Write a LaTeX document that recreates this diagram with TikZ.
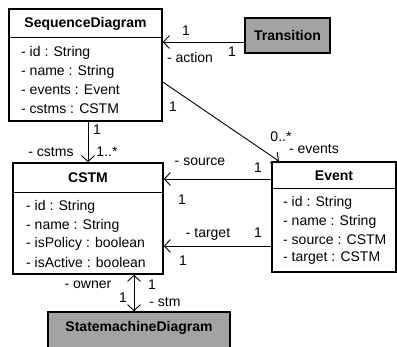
\documentclass[tikz,border=0pt]{standalone}
\usepackage{fontspec}
\setmainfont{Liberation Sans}
\usetikzlibrary{arrows.meta}
\definecolor{boxgray}{RGB}{163,163,163}
\begin{document}
\begin{tikzpicture}[x=1pt,y=-1pt,
  box/.style={draw, line width=1.6pt, inner sep=0pt, fill=white},
  gbox/.style={box, fill=boxgray},
  sep/.style={line width=1pt},
  conn/.style={line width=0.9pt},
  arr/.style={-{Straight Barb[length=6pt,width=13pt,line width=0.9pt]}},
  lbl/.style={inner sep=0pt, font=\fontsize{14}{16}\selectfont},
  ttl/.style={inner sep=0pt, font=\fontsize{14}{16}\selectfont\bfseries},
  attr/.style={inner sep=0pt, anchor=west, font=\fontsize{14}{16}\selectfont}
]
\useasboundingbox (0,0) rectangle (397,347);

% SequenceDiagram
\node[box, minimum width=153pt, minimum height=112pt] (sd) at (85.5,65) {};
\draw[sep] (sd.west |- 0,38) -- (sd.east |- 0,38);
\node[ttl] (sdt) at (85.5,24) {SequenceDiagram};
\node[attr] (sd1) at (21,53) {- id : String};
\node[attr] (sd2) at (21,71.5) {- name : String};
\node[attr] (sd3) at (21,90) {- events : Event};
\node[attr] (sd4) at (21,108.5) {- cstms : CSTM};

% Transition
\node[gbox, minimum width=85pt, minimum height=35pt] (tr) at (287.5,35.5) {};
\node[ttl] (trt) at (287.5,35.5) {Transition};

% CSTM
\node[box, minimum width=150pt, minimum height=111pt] (cs) at (88,218.5) {};
\draw[sep] (cs.west |- 0,193) -- (cs.east |- 0,193);
\node[ttl] (cst) at (88,178) {CSTM};
\node[attr] (cs1) at (26,207) {- id : String};
\node[attr] (cs2) at (26,225.5) {- name : String};
\node[attr] (cs3) at (26,244) {- isPolicy : boolean};
\node[attr] (cs4) at (26,262.5) {- isActive : boolean};

% Event
\node[box, minimum width=124pt, minimum height=110pt] (ev) at (334,217) {};
\draw[sep] (ev.west |- 0,189) -- (ev.east |- 0,189);
\node[ttl] (evt) at (334,176) {Event};
\node[attr] (ev1) at (283,203) {- id : String};
\node[attr] (ev2) at (283,221.5) {- name : String};
\node[attr] (ev3) at (283,240) {- source : CSTM};
\node[attr] (ev4) at (283,258.5) {- target : CSTM};

% StatemachineDiagram
\node[gbox, minimum width=182pt, minimum height=50pt] (sm) at (139,337) {};
\node[ttl] (smt) at (139,328) {StatemachineDiagram};

% connectors
\draw[conn,arr] (tr.west |- 0,42) -- (sd.east |- 0,42);
\node[lbl] at (186,31) {1};
\node[lbl] at (190,57) {- action};
\node[lbl] at (232,52) {1};

\draw[conn,arr] ([yshift=-17pt]sd.east) -- ([xshift=-55pt]ev.north);
\node[lbl] at (173,107) {1};
\node[lbl] at (281,137) {0..*};
\node[lbl] at (314,149) {- events};

\draw[conn,arr] (sd.south -| 88,0) -- (cs.north -| 88,0);
\node[lbl] at (97,130) {1};
\node[lbl] at (51,152) {- cstms};
\node[lbl] at (107,152) {1..*};

\draw[conn,arr] (ev.west |- 0,179) -- (cs.east |- 0,179);
\node[lbl] at (200,162) {- source};
\node[lbl] at (258,168) {1};
\node[lbl] at (182,200) {1};

\draw[conn,arr] (ev.west |- 0,246) -- (cs.east |- 0,246);
\node[lbl] at (208,234) {- target};
\node[lbl] at (258,233) {1};
\node[lbl] at (183,261) {1};

\draw[conn,arr] (cs.south -| 134,0) -- (sm.north -| 134,0);
\draw[conn,arr] (sm.north -| 134,0) -- (cs.south -| 134,0);
\node[lbl] at (88,285) {- owner};
\node[lbl] at (152,285) {1};
\node[lbl] at (123,298) {1};
\node[lbl] at (165,302) {- stm};
\end{tikzpicture}
\end{document}
